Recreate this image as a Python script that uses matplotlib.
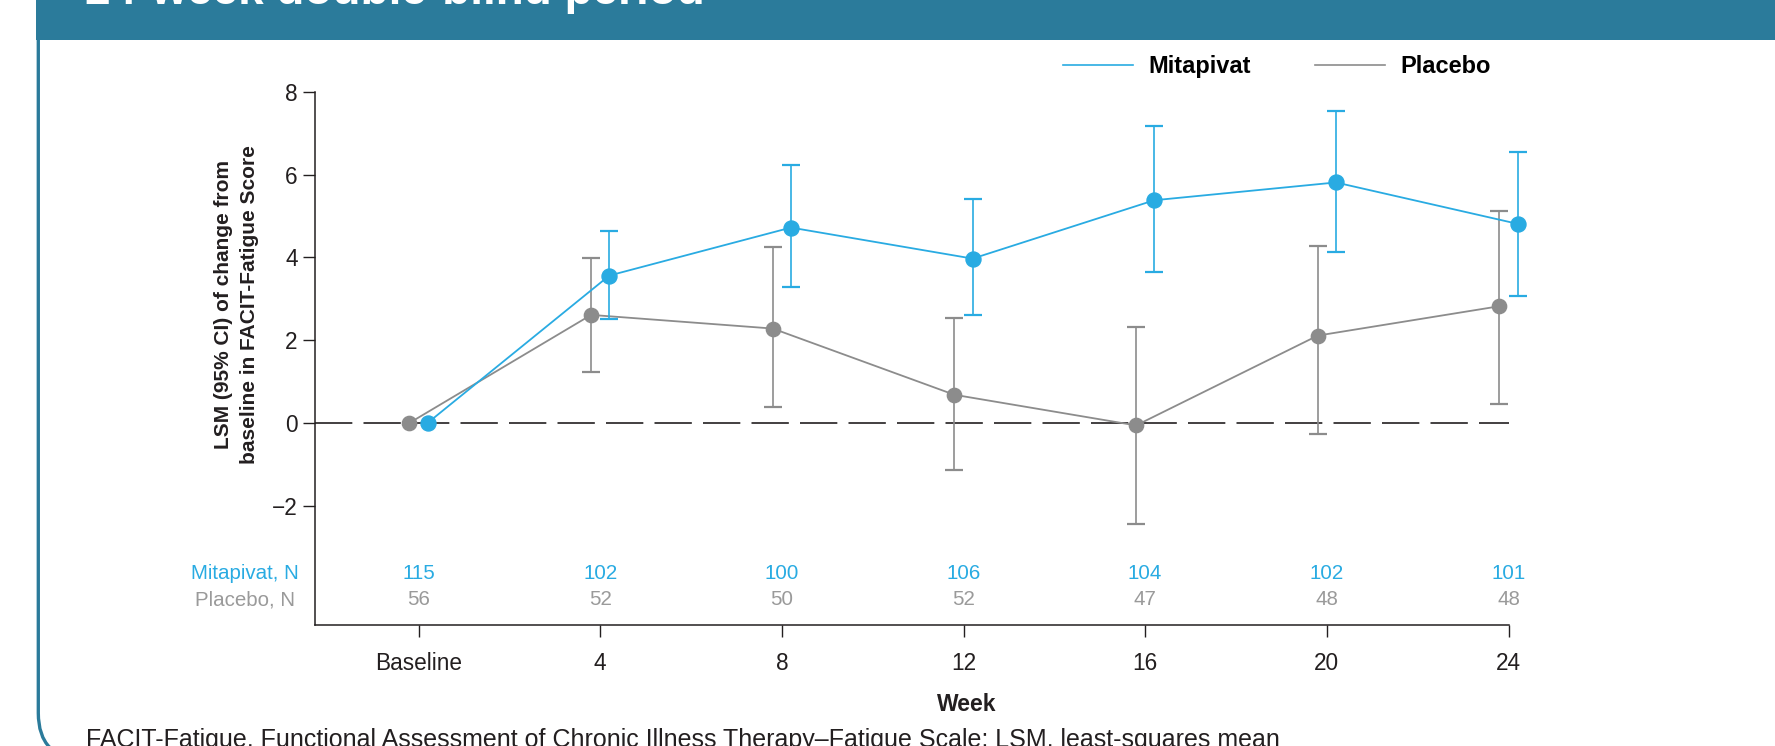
import numpy as np
import matplotlib
matplotlib.use("Agg")
import matplotlib.pyplot as plt
from matplotlib.lines import Line2D
from matplotlib.patches import FancyBboxPatch, Rectangle
from matplotlib.transforms import IdentityTransform

# visits
weeks = [0, 4, 8, 12, 16, 20, 24]
week_labels = ["Baseline", "4", "8", "12", "16", "20", "24"]

# LSM change from baseline with 95% CI
mitapivat_lsm = [0.0, 3.56, 4.72, 3.97, 5.38, 5.81, 4.81]
mitapivat_lo = [0.0, 2.51, 3.29, 2.60, 3.65, 4.14, 3.07]
mitapivat_hi = [0.0, 4.64, 6.22, 5.41, 7.18, 7.53, 6.54]

placebo_lsm = [0.0, 2.61, 2.28, 0.68, -0.06, 2.11, 2.82]
placebo_lo = [0.0, 1.23, 0.39, -1.14, -2.43, -0.27, 0.46]
placebo_hi = [0.0, 3.98, 4.26, 2.54, 2.32, 4.28, 5.12]

# patients at each visit
mitapivat_n = [115, 102, 100, 106, 104, 102, 101]
placebo_n = [56, 52, 50, 52, 47, 48, 48]

BLUE = "#29ABE2"
GREY = "#8C8C8C"
GREY_TEXT = "#9A9A9A"
TEAL = "#2B7B9B"
INK = "#231F20"

W, H = 1775, 746
plt.rcParams["font.family"] = ["Liberation Sans", "DejaVu Sans"]

fig = plt.figure(figsize=(W / 100, H / 100), dpi=100)


def fx(px):
    return px / W


def fy(py):
    return 1 - py / H


# panel frame and header band (pixel coordinates)
frame = FancyBboxPatch((38.3, -13), 1800, 900,
                       boxstyle="round,pad=0,rounding_size=46",
                       transform=IdentityTransform(), fill=False,
                       ec=TEAL, lw=2.4)
fig.add_artist(frame)
band = Rectangle((35.6, H - 40), 1800, 100, transform=IdentityTransform(),
                 fc=TEAL, ec="none")
fig.add_artist(band)
fig.text(fx(85), fy(3.5), "24-week double-blind period", color="white",
         fontsize=33, fontweight="bold", va="baseline")

ax = fig.add_axes([fx(315), fy(624.5), fx(1508.5) - fx(315), (624.5 - 91.8) / H])

ax.axhline(0, color=INK, lw=1.2, dashes=(22.4, 6.7), zorder=1)

series = [
    (placebo_lsm, placebo_lo, placebo_hi, GREY, -0.2, 10.3, 2),
    (mitapivat_lsm, mitapivat_lo, mitapivat_hi, BLUE, 0.2, 10.8, 3),
]
for lsm, lo, hi, color, dx, ms, z in series:
    x = np.array(weeks) + dx
    y = np.array(lsm)
    err = [y[1:] - np.array(lo[1:]), np.array(hi[1:]) - y[1:]]
    _, caps, bars = ax.errorbar(x[1:], y[1:], yerr=err, fmt="none", ecolor=color,
                                elinewidth=1.2, capsize=6.3, capthick=1.6, zorder=z)
    for artist in list(caps) + list(bars):
        artist.set_clip_on(False)
    ax.plot(x, y, color=color, lw=1.3, marker="o", ms=ms, zorder=z, clip_on=False)

ax.set_xlim(-2.28, 24)
ax.set_ylim(-4.87, 8)
ax.set_xticks(weeks, week_labels)
ax.set_yticks([-2, 0, 2, 4, 6, 8])
for side in ["top", "right"]:
    ax.spines[side].set_visible(False)
for side in ["left", "bottom"]:
    ax.spines[side].set_linewidth(1.1)
    ax.spines[side].set_color(INK)
ax.tick_params(direction="out", length=8.6, width=1, colors=INK, labelsize=16.3)
ax.tick_params(axis="x", pad=11)
ax.tick_params(axis="y", pad=4)

# number of patients rows
ax.text(-3.82, -3.78, "Mitapivat, N", color=BLUE, ha="center", va="baseline", fontsize=14.8)
ax.text(-3.82, -4.40, "Placebo, N", color=GREY_TEXT, ha="center", va="baseline", fontsize=14.8)
for wk, n_m, n_p in zip(weeks, mitapivat_n, placebo_n):
    ax.text(wk, -3.78, str(n_m), color=BLUE, ha="center", va="baseline", fontsize=14.8)
    ax.text(wk, -4.40, str(n_p), color=GREY_TEXT, ha="center", va="baseline", fontsize=14.8)

fig.text(fx(236.5), fy(304.5), "LSM (95% CI) of change from\nbaseline in FACIT-Fatigue Score",
         rotation=90, ha="center", va="center", fontsize=15, fontweight="bold",
         multialignment="center", linespacing=1.45, color=INK)
fig.text(fx(967), fy(710.7), "Week", ha="center", va="baseline", fontsize=16.5,
         fontweight="bold", color=INK)

handles = [Line2D([], [], color=BLUE, lw=1.2), Line2D([], [], color=GREY, lw=1.2)]
fig.legend(handles, ["Mitapivat", "Placebo"], loc="center left",
           bbox_to_anchor=(fx(1062.7), fy(66.7)), ncol=2, frameon=False,
           prop={"weight": "bold", "size": 17}, handlelength=2.97,
           handletextpad=0.66, columnspacing=2.7, borderpad=0, borderaxespad=0)

fig.text(fx(86), fy(746.5),
         "FACIT-Fatigue, Functional Assessment of Chronic Illness Therapy\u2013Fatigue Scale; LSM, least-squares mean",
         fontsize=18, color=INK, va="baseline")

fig.savefig("out.png", dpi=100)
